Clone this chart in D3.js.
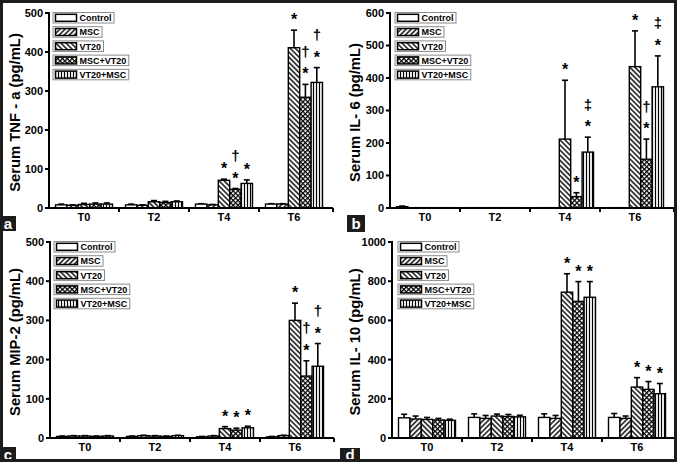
<!DOCTYPE html>
<html><head><meta charset="utf-8">
<script src="https://cdn.jsdelivr.net/npm/d3@7"></script>
<style>
body{margin:0;background:#fff}
svg{display:block}
text{font-family:"Liberation Sans",Arial,sans-serif;font-weight:bold}
</style>
</head><body>
<svg id="chart" width="677" height="462"></svg>
<script>
// ---------- data ----------
const categories = ["T0", "T2", "T4", "T6"];
const seriesNames = ["Control", "MSC", "VT20", "MSC+VT20", "VT20+MSC"];

// rows follow seriesNames, columns follow categories
const tnfMeans = [[8, 8, 10, 10], [7, 7, 8, 10], [9, 16, 71, 411], [10, 14, 48, 284], [10, 16, 63, 322]];
const tnfErrors = [[2, 2, 1, 1], [1, 1, 1, 1], [3, 3, 3, 45], [3, 3, 2, 33], [3, 2, 9, 38]];
const tnfMarks = [["T4", "VT20", "*"], ["T4", "MSC+VT20", "*†"], ["T4", "VT20+MSC", "*"],
                  ["T6", "VT20", "*"], ["T6", "MSC+VT20", "*†"], ["T6", "VT20+MSC", "*†"]];

const il6Means = [[4, 1, 1, 1], [1, 1, 1, 1], [1, 1, 212, 435], [1, 1, 35, 150], [1, 1, 172, 373]];
const il6Errors = [[2, 0, 0, 0], [0, 0, 0, 0], [0, 0, 181, 110], [0, 0, 12, 62], [0, 0, 46, 95]];
const il6Marks = [["T4", "VT20", "*"], ["T4", "MSC+VT20", "*"], ["T4", "VT20+MSC", "*‡"],
                  ["T6", "VT20", "*"], ["T6", "MSC+VT20", "*†"], ["T6", "VT20+MSC", "*‡"]];

const mipMeans = [[4, 4, 3, 3], [5, 6, 5, 6], [5, 5, 24, 300], [4, 4, 20, 158], [5, 6, 26, 183]];
const mipErrors = [[1, 1, 1, 1], [1, 1, 1, 1], [1, 1, 5, 44], [1, 1, 5, 39], [1, 1, 4, 58]];
const mipMarks = [["T4", "VT20", "*"], ["T4", "MSC+VT20", "*"], ["T4", "VT20+MSC", "*"],
                  ["T6", "VT20", "*"], ["T6", "MSC+VT20", "*†"], ["T6", "VT20+MSC", "*†"]];

const il10Means = [[103, 105, 105, 105], [97, 100, 100, 100], [95, 112, 744, 260], [92, 110, 697, 248], [90, 108, 718, 226]];
const il10Errors = [[18, 18, 18, 20], [15, 15, 15, 12], [10, 10, 94, 48], [8, 10, 101, 40], [6, 8, 80, 52]];
const il10Marks = [["T4", "VT20", "*"], ["T4", "MSC+VT20", "*"], ["T4", "VT20+MSC", "*"],
                   ["T6", "VT20", "*"], ["T6", "MSC+VT20", "*"], ["T6", "VT20+MSC", "*"]];

const tnfTicks = [0, 100, 200, 300, 400, 500];
const il6Ticks = [0, 100, 200, 300, 400, 500, 600];
const mipTicks = [0, 100, 200, 300, 400, 500];
const il10Ticks = [0, 200, 400, 600, 800, 1000];

// ---------- drawing ----------
const svg = d3.select("#chart");
const defs = svg.append("defs");
const patternIds = ["none", "p-msc", "p-vt20", "p-cross", "p-vert"];

function linePattern(id, rot, size, sw) {
  const p = defs.append("pattern").attr("id", id).attr("patternUnits", "userSpaceOnUse")
    .attr("width", size).attr("height", size).attr("patternTransform", `rotate(${rot})`);
  p.append("rect").attr("width", size).attr("height", size).attr("fill", "#fff");
  p.append("line").attr("x1", size / 2).attr("x2", size / 2).attr("y1", 0).attr("y2", size)
    .attr("stroke", "#000").attr("stroke-width", sw);
  return p;
}
linePattern("p-msc", 45, 3.6, 1.4);
linePattern("p-vt20", -45, 3.6, 1.4);
linePattern("p-vert", 0, 3, 1.2);
{
  const s = 3.4;
  const p = defs.append("pattern").attr("id", "p-cross").attr("patternUnits", "userSpaceOnUse")
    .attr("width", s).attr("height", s).attr("patternTransform", "rotate(45)");
  p.append("rect").attr("width", s).attr("height", s).attr("fill", "#fff");
  p.append("line").attr("x1", 0).attr("x2", s).attr("y1", 0.6).attr("y2", 0.6).attr("stroke", "#000").attr("stroke-width", 1.3);
  p.append("line").attr("y1", 0).attr("y2", s).attr("x1", 0.6).attr("x2", 0.6).attr("stroke", "#000").attr("stroke-width", 1.3);
}
const fillFor = i => i === 0 ? "#fff" : `url(#${patternIds[i]})`;

const panels = [
  {means: tnfMeans, errors: tnfErrors, marks: tnfMarks, ticks: tnfTicks, title: "Serum TNF - a (pg/mL)",
   letter: "a", x0: 49, yTop: 13, yBottom: 208, titleX: 15, legendX: 53, legendY: 12.5, box: [0, 216, 16, 15]},
  {means: il6Means, errors: il6Errors, marks: il6Marks, ticks: il6Ticks, title: "Serum IL- 6 (pg/mL)",
   letter: "b", x0: 390, yTop: 13, yBottom: 208, titleX: 355, legendX: 395, legendY: 12.5, box: [347, 215, 18, 17]},
  {means: mipMeans, errors: mipErrors, marks: mipMarks, ticks: mipTicks, title: "Serum MIP-2  (pg/mL)",
   letter: "c", x0: 50, yTop: 242, yBottom: 438, titleX: 15, legendX: 54, legendY: 241.5, box: [0, 447, 16, 15]},
  {means: il10Means, errors: il10Errors, marks: il10Marks, ticks: il10Ticks, title: "Serum IL- 10 (pg/mL)",
   letter: "d", x0: 392, yTop: 242, yBottom: 438, titleX: 355, legendX: 398, legendY: 241.5, box: [340, 448, 20, 14]}
];

function drawPanel(P) {
  const g = svg.append("g");
  const y = d3.scaleLinear().domain([0, d3.max(P.ticks)]).range([P.yBottom, P.yTop]);
  const x = d3.scaleBand().domain(categories).range([P.x0, P.x0 + 280]).padding(0);
  const xs = d3.scaleBand().domain(seriesNames).range([6.5, 63.5]).padding(0);

  // bars
  seriesNames.forEach((s, si) => {
    categories.forEach((c, ci) => {
      const v = P.means[si][ci];
      const bx = x(c) + xs(s);
      const bw = xs.bandwidth();
      const e = P.errors[si][ci];
      if (e > 0) {
        const cx = bx + bw / 2;
        g.append("line").attr("x1", cx).attr("x2", cx).attr("y1", y(v)).attr("y2", y(v + e))
          .attr("stroke", "#000").attr("stroke-width", 1.6);
        g.append("line").attr("x1", cx - 3).attr("x2", cx + 3).attr("y1", y(v + e)).attr("y2", y(v + e))
          .attr("stroke", "#000").attr("stroke-width", 1.6);
      }
      g.append("rect").attr("x", bx).attr("y", y(v)).attr("width", bw).attr("height", y(0) - y(v))
        .attr("fill", fillFor(si)).attr("stroke", "#000").attr("stroke-width", 1.4);
    });
  });

  // significance marks
  P.marks.forEach(([c, s, str]) => {
    const si = seriesNames.indexOf(s), ci = categories.indexOf(c);
    const top = y(P.means[si][ci] + P.errors[si][ci]);
    const cx = x(c) + xs(s) + xs.bandwidth() / 2;
    Array.from(str).forEach((ch, k) => {
      const center = top - 14 - k * 18;
      const isStar = ch === "*";
      g.append("text").attr("x", cx).attr("y", center + (isStar ? 9 : 4.5))
        .attr("text-anchor", "middle").attr("font-size", isStar ? 16 : 15).text(ch);
    });
  });

  // y axis
  g.append("line").attr("x1", P.x0).attr("x2", P.x0).attr("y1", P.yTop - 1).attr("y2", P.yBottom + 1)
    .attr("stroke", "#000").attr("stroke-width", 2);
  P.ticks.forEach(t => {
    g.append("line").attr("x1", P.x0 - 4).attr("x2", P.x0).attr("y1", y(t)).attr("y2", y(t))
      .attr("stroke", "#000").attr("stroke-width", 2);
    g.append("text").attr("x", P.x0 - 6).attr("y", y(t)).attr("dy", "0.36em")
      .attr("text-anchor", "end").attr("font-size", 11).text(t);
  });
  // x axis
  g.append("line").attr("x1", P.x0 - 1).attr("x2", P.x0 + 284).attr("y1", P.yBottom).attr("y2", P.yBottom)
    .attr("stroke", "#000").attr("stroke-width", 2);
  categories.forEach((c, i) => {
    const tx = i === categories.length - 1 ? P.x0 + 284 : x(c) + x.bandwidth();
    g.append("line").attr("x1", tx).attr("x2", tx).attr("y1", P.yBottom).attr("y2", P.yBottom + 4)
      .attr("stroke", "#000").attr("stroke-width", 2);
    g.append("text").attr("x", x(c) + x.bandwidth() / 2).attr("y", P.yBottom + 13)
      .attr("text-anchor", "middle").attr("font-size", 11).text(c);
  });

  // y title
  const cyT = (P.yTop + P.yBottom) / 2 + 2;
  g.append("text").attr("transform", `translate(${P.titleX},${cyT}) rotate(-90)`)
    .attr("dy", "0.35em").attr("text-anchor", "middle").attr("font-size", 14.8).text(P.title);

  // legend
  seriesNames.forEach((s, i) => {
    const ly = P.legendY + i * 14.2;
    const lg = g.append("g");
    const box = lg.append("rect").attr("x", P.legendX).attr("y", ly).attr("height", 10.5)
      .attr("fill", "#fff").attr("stroke", "#8a8a8a").attr("stroke-width", 1);
    lg.append("rect").attr("x", P.legendX + 2.5).attr("y", ly + 1.8).attr("width", 21).attr("height", 7)
      .attr("fill", fillFor(i)).attr("stroke", "#000").attr("stroke-width", 1.5);
    const t = lg.append("text").attr("x", P.legendX + 26.5).attr("y", ly + 8.6)
      .attr("font-size", 9).text(s);
    const w = t.node().getComputedTextLength();
    box.attr("width", 26.5 + w + 2.5);
  });

  // panel letter
  const [bx, by, bw, bh] = P.box;
  svg.append("rect").attr("x", bx).attr("y", by).attr("width", bw).attr("height", bh).attr("fill", "#1c1c1c");
  svg.append("text").attr("x", bx + bw / 2).attr("y", by + bh / 2).attr("dy", "0.36em")
    .attr("text-anchor", "middle").attr("font-size", 15).attr("fill", "#fff").text(P.letter);
}

panels.forEach(drawPanel);

// outer frame
svg.append("rect").attr("x", 1.5).attr("y", 1.5).attr("width", 674).attr("height", 459)
  .attr("fill", "none").attr("stroke", "#1c1c1c").attr("stroke-width", 3);
</script>
</body></html>
